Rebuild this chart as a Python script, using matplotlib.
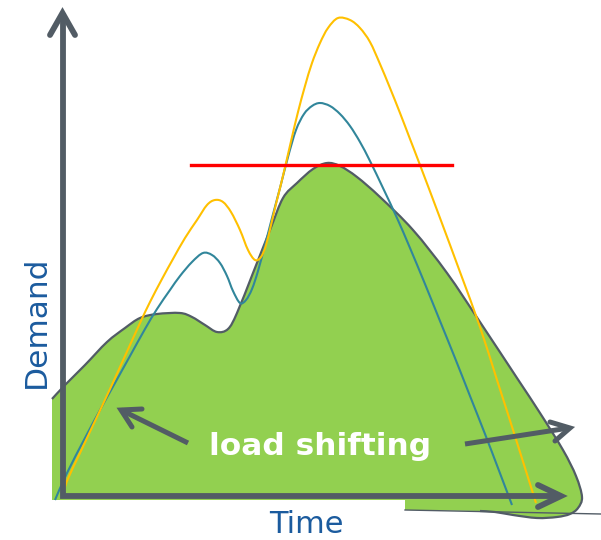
import matplotlib
matplotlib.use("Agg")
import matplotlib.pyplot as plt
import numpy as np
from matplotlib.path import Path
from matplotlib.patches import PathPatch

# ---- data (picture coordinates: x to the right, y downward) ----
base_x = [52, 65, 85, 107, 125, 140, 157, 180, 192, 205, 217, 228, 237, 253, 270, 283,
          297, 313, 327, 340, 357, 380, 413, 447, 480, 517, 540, 563, 576, 582, 578, 570,
          557, 537, 513, 495, 480]
base_y = [399, 385, 365, 342, 328, 318, 314, 313, 317, 325, 332, 329, 313, 273, 230, 198,
          183, 169, 163, 166, 177, 197, 230, 273, 322, 378, 413, 450, 476, 497, 508, 514,
          517, 518, 515, 512, 511]
fill_close_x = [405, 405, 52]
fill_close_y = [510, 500, 500]

yellow_x = [63, 67, 80, 95, 110, 125, 140, 150, 162, 173, 185, 197, 207, 215, 223, 231, 240, 248,
            255, 261, 266, 271, 276, 281, 286, 292, 298, 305, 312, 320, 328, 338, 350, 360,
            370, 380, 390, 400, 410, 420, 440, 460, 480, 497, 514, 536]
yellow_y = [496, 481, 453, 421, 389, 356, 323, 302, 279, 259, 238, 220, 205, 200, 202, 212, 230, 250,
            260, 257, 245, 225, 204, 184, 163, 137, 112, 86, 63, 43, 28, 18, 20, 28,
            42, 64, 88, 113, 139, 165, 218, 272, 327, 380, 433, 503]

teal_x = [55, 67, 85, 100, 115, 130, 145, 157, 170, 180, 192, 203, 212, 220, 227, 233, 240, 246,
          252, 258, 265, 272, 280, 288, 296, 304, 312, 320, 330, 340, 350, 360, 370, 383,
          397, 410, 425, 440, 455, 470, 485, 498, 512]
teal_y = [500, 473, 438, 410, 383, 356, 329, 309, 290, 276, 262, 253, 255, 263, 276, 291, 303, 300,
          289, 271, 245, 218, 188, 157, 130, 114, 106, 103, 106, 114, 126, 142, 161, 188,
          218, 248, 284, 321, 358, 396, 434, 468, 505]

cap_x = [191, 452]
cap_y = [165, 165]

bottom_line_x = [405, 601]
bottom_line_y = [510, 514]

# axes arrows and annotation arrows
axis_x = [62.5, 62.5, 561]
axis_y = [13, 496, 496]
yhead_x = [50, 62.5, 75]
yhead_y = [35, 13, 35]
xhead_x = [538, 561, 538]
xhead_y = [485, 496, 507]

left_shaft_x = [188, 121]
left_shaft_y = [443, 410]
left_head_x = [142, 121, 132]
left_head_y = [409, 410, 427]

right_shaft_x = [465, 569]
right_shaft_y = [444, 428]
right_head_x = [550, 570, 555]
right_head_y = [422, 428, 441]

GREEN = "#92D050"
OUTLINE = "#525C66"
YELLOW = "#FFC000"
TEAL = "#31869B"
RED = "#FF0000"
AXIS = "#525C65"
BLUE = "#1B5B9E"


def smooth_path(xs, ys, extra=None):
    """Catmull-Rom curve through the read points, drawn as cubic Bezier segments."""
    P = np.column_stack([xs, ys]).astype(float)
    n = len(P)
    verts = [P[0]]
    codes = [Path.MOVETO]
    for i in range(n - 1):
        p0 = P[i - 1] if i > 0 else P[i]
        p1 = P[i]
        p2 = P[i + 1]
        p3 = P[i + 2] if i + 2 < n else P[i + 1]
        c1 = p1 + (p2 - p0) / 6.0
        c2 = p2 - (p3 - p1) / 6.0
        verts += [c1, c2, p2]
        codes += [Path.CURVE4] * 3
    if extra is not None:
        for x, y in zip(*extra):
            verts.append([x, y])
            codes.append(Path.LINETO)
        verts.append(P[0])
        codes.append(Path.CLOSEPOLY)
    return Path(verts, codes)


fig = plt.figure(figsize=(6.01, 5.40), dpi=100)
ax = fig.add_axes([0, 0, 1, 1])
ax.set_xlim(0, 601)
ax.set_ylim(540, 0)
ax.axis("off")

ax.add_patch(PathPatch(smooth_path(base_x, base_y, (fill_close_x, fill_close_y)),
                       facecolor=GREEN, edgecolor="none", zorder=1))
ax.add_patch(PathPatch(smooth_path(base_x, base_y), facecolor="none", edgecolor=OUTLINE,
                       lw=1.6, zorder=2))
ax.plot(bottom_line_x, bottom_line_y, color=OUTLINE, lw=1.0, zorder=2)

ax.add_patch(PathPatch(smooth_path(teal_x, teal_y), facecolor="none", edgecolor=TEAL,
                       lw=1.5, zorder=3))
ax.add_patch(PathPatch(smooth_path(yellow_x, yellow_y), facecolor="none", edgecolor=YELLOW,
                       lw=1.5, zorder=3))
ax.plot(cap_x, cap_y, color=RED, lw=2.4, zorder=4)

ax.plot(axis_x, axis_y, color=AXIS, lw=4.2, zorder=5, solid_joinstyle="miter", solid_capstyle="butt")
ax.plot(yhead_x, yhead_y, color=AXIS, lw=4.2, zorder=5, solid_joinstyle="miter", solid_capstyle="round")
ax.plot(xhead_x, xhead_y, color=AXIS, lw=4.2, zorder=5, solid_joinstyle="miter", solid_capstyle="round")

for sx, sy, hx, hy in [(left_shaft_x, left_shaft_y, left_head_x, left_head_y),
                       (right_shaft_x, right_shaft_y, right_head_x, right_head_y)]:
    ax.plot(sx, sy, color=AXIS, lw=3.6, zorder=5, solid_capstyle="butt")
    ax.plot(hx, hy, color=AXIS, lw=3.6, zorder=5, solid_joinstyle="miter", solid_capstyle="round")

ax.text(320, 455, "load shifting", color="white", fontsize=22.5, fontweight="bold",
        ha="center", va="baseline", family="DejaVu Sans", zorder=6)
ax.text(306, 533, "Time", color=BLUE, fontsize=22, ha="center", va="baseline",
        family="DejaVu Sans", zorder=6)
ax.text(36, 322, "Demand", color=BLUE, fontsize=22.5, rotation=90, ha="center", va="center",
        family="DejaVu Sans", zorder=6)

fig.savefig("out.png", dpi=100)
